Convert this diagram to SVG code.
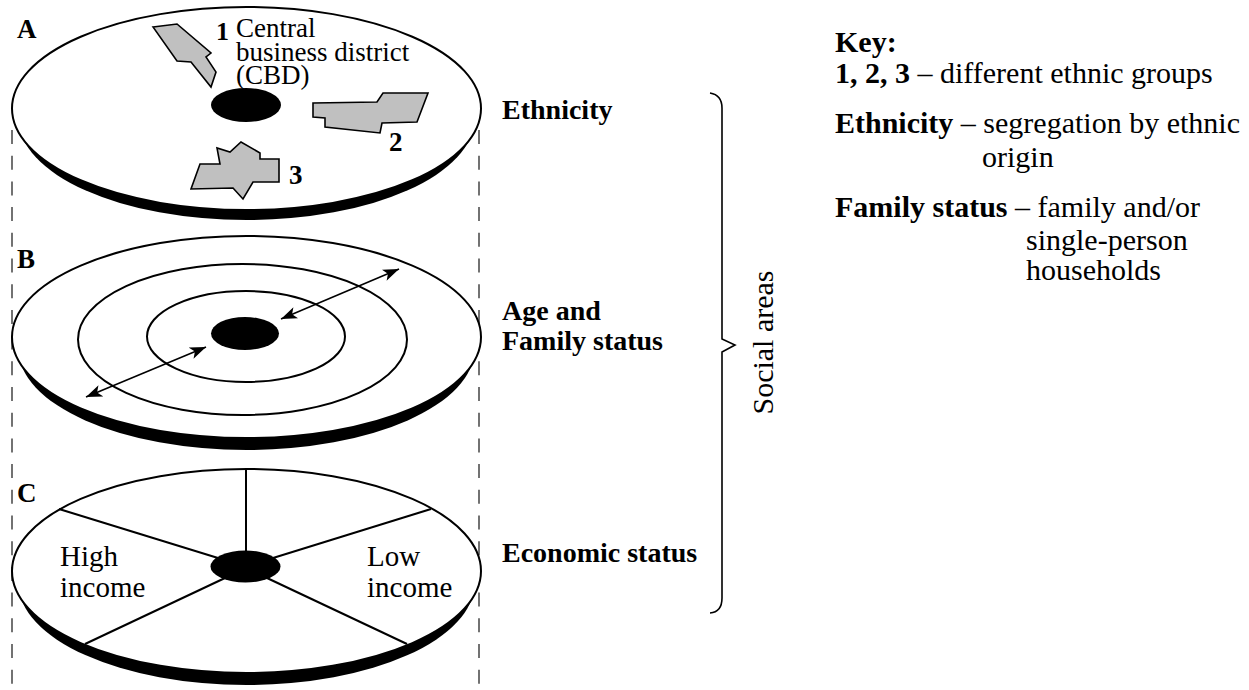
<svg xmlns="http://www.w3.org/2000/svg" width="1249" height="690" viewBox="0 0 1249 690">
<defs>
<style>
.shadow{fill:#000}
.top{fill:#fff;stroke:#000;stroke-width:2}
.cbd{fill:#000}
.ring{fill:none;stroke:#000;stroke-width:2}
.spoke{stroke:#000;stroke-width:2}
.grp{fill:#c0c0c0;stroke:#000;stroke-width:1.6;stroke-linejoin:miter}
.dash{stroke:#444;stroke-width:1.5;stroke-dasharray:14 11.7}
.arr{stroke:#000;stroke-width:1.6;fill:none;marker-start:url(#ah);marker-end:url(#ah)}
</style>
<marker id="ah" markerUnits="userSpaceOnUse" markerWidth="18" markerHeight="14" refX="16" refY="6" orient="auto-start-reverse" viewBox="0 0 18 12">
<path d="M0,0 L16,6 L0,12 L4,6 z" fill="#000"/>
</marker>
</defs>
<rect width="1249" height="690" fill="#fff"/>

<g id="guides">
<line class="dash" x1="12" y1="130" x2="12" y2="690"/>
<line class="dash" x1="479" y1="130" x2="479" y2="690"/>
</g>

<g id="disc-a">
<ellipse class="shadow" cx="246.5" cy="118.5" rx="228" ry="101.5"/>
<ellipse class="top" cx="246.5" cy="108.5" rx="234.5" ry="101.5"/>
<ellipse class="cbd" cx="246" cy="105" rx="35" ry="17"/>
<polygon class="grp" points="153,27 177,24 211,53 206,57 216,72 211,87 191,62 177,61"/>
<polygon class="grp" points="313,103 377,102 383,93 428,93 417,122 382,123 380,133 325,127 325,118 313,117"/>
<polygon class="grp" points="200,164 220,164 217,148 230,152 241,142 260,153 260,159 279,159 279,182 253,182 243,199 233,188 191,189"/>
<text font-family="Liberation Serif" font-weight="bold" x="17" y="38" font-size="27">A</text>
<text font-family="Liberation Serif" font-weight="bold" x="216" y="40" font-size="26">1</text>
<text font-family="Liberation Serif" font-size="27"><tspan x="236" y="37">Central</tspan><tspan x="236" y="60.5">business district</tspan><tspan x="236" y="84">(CBD)</tspan></text>
<text font-family="Liberation Serif" font-weight="bold" x="389" y="151" font-size="27">2</text>
<text font-family="Liberation Serif" font-weight="bold" x="289" y="184" font-size="27">3</text>
</g>

<g id="disc-b">
<ellipse class="shadow" cx="246.5" cy="349" rx="228" ry="101"/>
<ellipse class="top" cx="246.5" cy="337" rx="234.5" ry="101"/>
<ellipse class="ring" cx="242.5" cy="339.5" rx="164.5" ry="75.5"/>
<ellipse class="ring" cx="246" cy="336.5" rx="99" ry="45.5"/>
<ellipse class="cbd" cx="245" cy="333.5" rx="34" ry="16.5"/>
<text font-family="Liberation Serif" font-weight="bold" x="17" y="268" font-size="27">B</text>
</g>

<g id="disc-c">
<ellipse class="shadow" cx="246.5" cy="583" rx="228" ry="102"/>
<ellipse class="top" cx="246.5" cy="571" rx="234.5" ry="102"/>
<line class="spoke" x1="246" y1="470" x2="246" y2="552"/>
<line class="spoke" x1="59" y1="509" x2="218" y2="558"/>
<line class="spoke" x1="431" y1="509" x2="273" y2="558"/>
<line class="spoke" x1="85" y1="644" x2="225" y2="578"/>
<line class="spoke" x1="407" y1="644" x2="267" y2="578"/>
<ellipse class="cbd" cx="245.5" cy="566.5" rx="35" ry="16"/>
<text font-family="Liberation Serif" font-weight="bold" x="17" y="502" font-size="27">C</text>
<text font-family="Liberation Serif" font-size="29"><tspan x="60" y="566">High</tspan><tspan x="60" y="597">income</tspan></text>
<text font-family="Liberation Serif" font-size="29"><tspan x="367" y="566">Low</tspan><tspan x="367" y="597">income</tspan></text>
</g>

<g id="connectors">
<line class="arr" x1="281" y1="319" x2="399" y2="269"/>
<line class="arr" x1="206" y1="347" x2="86" y2="397"/>
</g>

<g id="layer-labels">
<text font-family="Liberation Serif" font-weight="bold" font-size="28" x="502" y="119">Ethnicity</text>
<text font-family="Liberation Serif" font-weight="bold" font-size="28"><tspan x="502" y="320">Age and</tspan><tspan x="502" y="350">Family status</tspan></text>
<text font-family="Liberation Serif" font-weight="bold" font-size="28" x="502" y="562">Economic status</text>
</g>

<g id="brace">
<path d="M710,93 Q722,95 722,108 L722,339 L735,345 L722,352 L722,598 Q722,612 710,613" fill="none" stroke="#000" stroke-width="1.6"/>
<text font-family="Liberation Serif" font-size="30" transform="translate(773,342.5) rotate(-90)" text-anchor="middle">Social areas</text>
</g>

<g id="key">
<text font-family="Liberation Serif" font-weight="bold" font-size="30" x="835" y="52">Key:</text>
<text font-family="Liberation Serif" font-size="30" x="835" y="83"><tspan font-weight="bold">1, 2, 3</tspan> – different ethnic groups</text>
<text font-family="Liberation Serif" font-size="30"><tspan x="835" y="133"><tspan font-weight="bold">Ethnicity</tspan> – segregation by ethnic</tspan><tspan x="982" y="167">origin</tspan></text>
<text font-family="Liberation Serif" font-size="30"><tspan x="835" y="217"><tspan font-weight="bold">Family status</tspan> – family and/or</tspan><tspan x="1026" y="250">single-person</tspan><tspan x="1026" y="280">households</tspan></text>
</g>
</svg>
